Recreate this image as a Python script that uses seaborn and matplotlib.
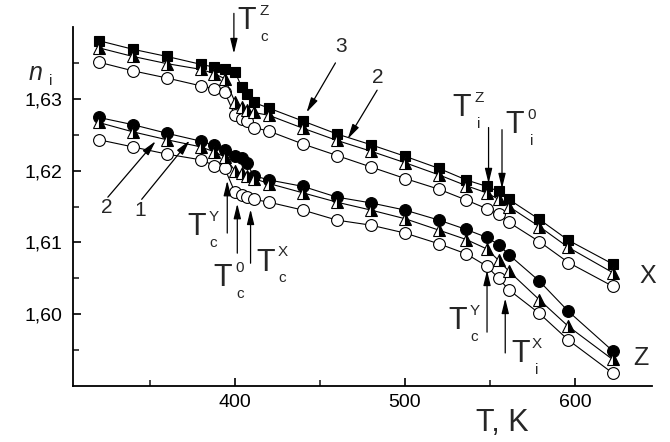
import matplotlib
matplotlib.use("Agg")
import matplotlib.pyplot as plt
import seaborn as sns
from matplotlib.ticker import FixedLocator, FuncFormatter

# ---------------- data ----------------
T_K = [320, 340, 360, 380, 388, 394, 400, 404, 407, 411, 420, 440, 460,
       480, 500, 520, 536, 548, 555, 561, 579, 596, 622]

# X group (upper curves)
X3 = [1.6381, 1.6369, 1.6359, 1.6348, 1.6344, 1.6341, 1.6338, 1.6316, 1.6307,
      1.6295, 1.6287, 1.6269, 1.6251, 1.6236, 1.6220, 1.6203, 1.6187, 1.6178,
      1.6171, 1.6160, 1.6132, 1.6103, 1.6070]
X2 = [1.6371, 1.6359, 1.6349, 1.6341, 1.6335, 1.6328, 1.6296, 1.6288, 1.6284,
      1.6281, 1.6277, 1.6259, 1.6242, 1.6227, 1.6211, 1.6194, 1.6179, 1.6169,
      1.6160, 1.6150, 1.6122, 1.6093, 1.6058]
X1 = [1.6351, 1.6339, 1.6329, 1.6318, 1.6314, 1.6309, 1.6277, 1.6272, 1.6269,
      1.6260, 1.6255, 1.6237, 1.6221, 1.6205, 1.6189, 1.6174, 1.6159, 1.6147,
      1.6139, 1.6128, 1.6101, 1.6072, 1.6039]

# Z group (lower curves)
Z3 = [1.6274, 1.6264, 1.6252, 1.6241, 1.6235, 1.6229, 1.6221, 1.6217, 1.6210,
      1.6193, 1.6187, 1.6178, 1.6163, 1.6155, 1.6145, 1.6131, 1.6118, 1.6107,
      1.6097, 1.6083, 1.6046, 1.6004, 1.5949]
Z2 = [1.6267, 1.6254, 1.6243, 1.6233, 1.6226, 1.6219, 1.6200, 1.6196, 1.6192,
      1.6189, 1.6182, 1.6169, 1.6156, 1.6145, 1.6133, 1.6117, 1.6104, 1.6091,
      1.6075, 1.6060, 1.6020, 1.5983, 1.5937]
Z1 = [1.6243, 1.6233, 1.6223, 1.6215, 1.6207, 1.6203, 1.6170, 1.6166, 1.6163,
      1.6160, 1.6156, 1.6145, 1.6131, 1.6124, 1.6113, 1.6098, 1.6084, 1.6067,
      1.6050, 1.6034, 1.6001, 1.5964, 1.5918]

X_MAJOR = [400, 500, 600]
X_MINOR = [350, 450, 550]
Y_MAJOR = [1.60, 1.61, 1.62, 1.63]
Y_MINOR = [1.595, 1.605, 1.615, 1.625, 1.635]

# ---------------- style ----------------
sns.set_style("ticks")
plt.rcParams['font.family'] = ['Liberation Sans', 'DejaVu Sans']

fig = plt.figure(figsize=(6.7, 4.42), dpi=100)
ax = fig.add_axes([0.1094, 0.1267, 0.8633, 0.8122])

LW = 0.8
MEW = 0.8
common = dict(ax=ax, color='black', linewidth=LW, errorbar=None, sort=False,
              markeredgecolor='black', markeredgewidth=MEW)

open_c = dict(marker='o', markersize=8.5, markerfacecolor='white')
half_t = dict(marker='^', markersize=8, markerfacecolor='black',
              markerfacecoloralt='white', fillstyle='right')
fill_s = dict(marker='s', markersize=7.2, markerfacecolor='black')
fill_c = dict(marker='o', markersize=8.5, markerfacecolor='black')

for y1, y3, style3 in [(X1, X3, fill_s), (Z1, Z3, fill_c)]:
    sns.lineplot(x=T_K, y=y1, **common, **open_c)
    sns.lineplot(x=T_K, y=y3, **common, **style3)
sns.lineplot(x=T_K, y=X2, **common, **half_t)
sns.lineplot(x=T_K, y=Z2, **common, **half_t)

ax.set_xlim(305, 645)
ax.set_ylim(1.59, 1.64)
sns.despine(ax=ax)
for s in ['left', 'bottom']:
    ax.spines[s].set_linewidth(1.3)
    ax.spines[s].set_color('black')

ax.xaxis.set_major_locator(FixedLocator(X_MAJOR))
ax.xaxis.set_minor_locator(FixedLocator(X_MINOR))
ax.yaxis.set_major_locator(FixedLocator(Y_MAJOR))
ax.yaxis.set_minor_locator(FixedLocator(Y_MINOR))
ax.yaxis.set_major_formatter(FuncFormatter(lambda v, p: f"{v:.2f}".replace('.', ',')))
ax.tick_params(which='major', direction='in', length=6, width=1.2,
               labelsize=14, colors='black')
ax.tick_params(axis='y', which='major', pad=8)
ax.tick_params(axis='x', which='major', pad=6)
ax.tick_params(which='minor', direction='in', length=4, width=1.2)

ax.set_xlabel("T, K", fontsize=22)
ax.xaxis.set_label_coords(0.741, -0.103)
ax.xaxis.label.set_va('center')
ax.set_ylabel("")

fig.text(0.0537, 0.835, "n", fontsize=18, style='italic', ha='center', va='center')
fig.text(0.0761, 0.817, "i", fontsize=11, ha='center', va='center')

# ---------------- annotations ----------------
ARROW = dict(arrowstyle='-|>,head_length=0.9,head_width=0.22', color='black',
             lw=0.9, shrinkA=0, shrinkB=0, mutation_scale=10)


def arrow(start, tip):
    ax.annotate('', xy=tip, xytext=start, arrowprops=ARROW, annotation_clip=False)


def tlabel(pos, sup, sub):
    ax.text(pos[0], pos[1], "T", fontsize=22, ha='center', va='center')
    ax.annotate(sup, xy=pos, xytext=(12.2, 7.6), textcoords='offset points',
                fontsize=11, ha='center', va='center', annotation_clip=False)
    ax.annotate(sub, xy=pos, xytext=(11.9, -11.5), textcoords='offset points',
                fontsize=11, ha='center', va='center', annotation_clip=False)


# T_c^Z
arrow((399.4, 1.6419), (399.4, 1.6363))
tlabel((407.2, 1.6408), "Z", "c")
# T_i^Z and T_i^0
arrow((549.1, 1.6260), (549.1, 1.6182))
tlabel((533.4, 1.6287), "Z", "i")
arrow((557.0, 1.6257), (557.0, 1.6175))
tlabel((564.5, 1.6263), "0", "i")
# numbers 3 and 2 (upper)
ax.text(462.6, 1.6373, "3", fontsize=15, ha='center', va='center')
arrow((459.1, 1.6350), (442.1, 1.6281))
ax.text(483.8, 1.6330, "2", fontsize=15, ha='center', va='center')
arrow((483.6, 1.6312), (466.3, 1.6244))
# numbers 2 and 1 (lower left)
ax.text(324.7, 1.6149, "2", fontsize=15, ha='center', va='center')
arrow((325.3, 1.6163), (353.4, 1.6241))
ax.text(344.1, 1.6145, "1", fontsize=15, ha='center', va='center')
arrow((345.2, 1.6160), (373.4, 1.6242))
# T_c^Y, T_c^0, T_c^X near 400 K
arrow((395.5, 1.6113), (395.5, 1.6186))
tlabel((377.8, 1.6121), "Y", "c")
arrow((401.4, 1.6085), (401.4, 1.6154))
tlabel((393.1, 1.6050), "0", "c")
arrow((409.2, 1.6071), (409.2, 1.6146))
tlabel((418.3, 1.6072), "X", "c")
# T_c^Y and T_i^X near 550 K
arrow((548.2, 1.5975), (548.2, 1.6061))
tlabel((531.0, 1.5990), "Y", "c")
arrow((558.9, 1.5946), (558.9, 1.6022))
tlabel((567.7, 1.5944), "X", "i")
# group labels
ax.text(642.9, 1.6053, "X", fontsize=18, ha='center', va='center')
ax.text(638.7, 1.5939, "Z", fontsize=18, ha='center', va='center')

fig.savefig("out.png", dpi=100)
